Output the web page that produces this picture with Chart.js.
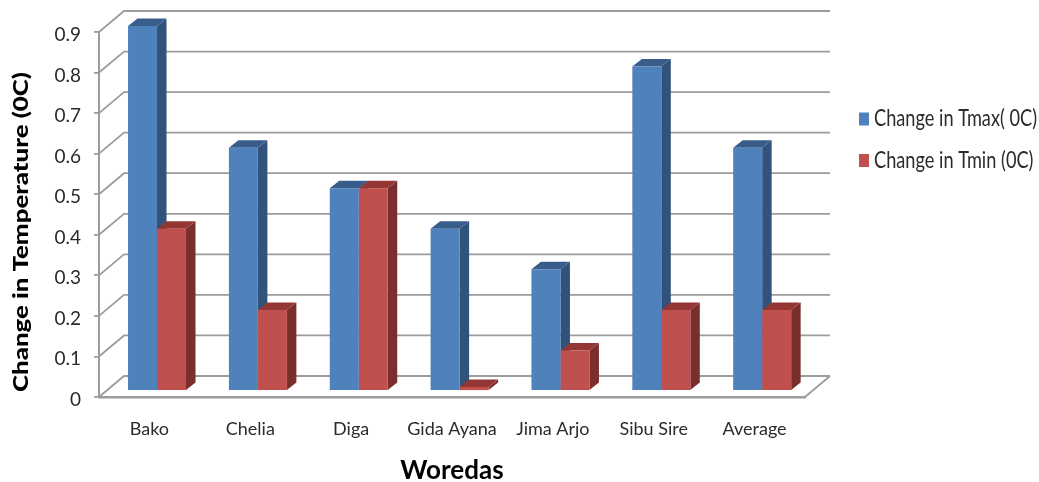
<!DOCTYPE html>
<html>
<head>
<meta charset="utf-8">
<title>Change in Temperature by Woreda</title>
<script src="https://cdn.jsdelivr.net/npm/chart.js@4/dist/chart.umd.min.js"></script>
<style>
  html, body { margin: 0; padding: 0; background: #fff; }
  canvas { display: block; }
</style>
</head>
<body>
<canvas id="tempChart" width="1039" height="482"></canvas>
<script>
const woredas = ['Bako', 'Chelia', 'Diga', 'Gida Ayana', 'Jima Arjo', 'Sibu Sire', 'Average'];
const tmaxChange = [0.9, 0.6, 0.5, 0.4, 0.3, 0.8, 0.6];
const tminChange = [0.4, 0.2, 0.5, 0.01, 0.1, 0.2, 0.2];

const labelFont = 'Lato, sans-serif';
const gridColor = '#9c9c9c';
const textColor = '#2b2b2b';

// fake 3D: back wall offset, and how far the bars sit in front of it
const wallDx = 25, wallDy = 21;
const barDx = 7.6, barDy = 6;
const depthDx = 9.5, depthDy = 7.5;

const shades = [
  { top: '#385d8a', side: '#31527a' },
  { top: '#943634', side: '#7a2f2d' }
];

function fillPoly(ctx, pts, color) {
  ctx.fillStyle = color;
  ctx.beginPath();
  pts.forEach((p, i) => i ? ctx.lineTo(p[0], p[1]) : ctx.moveTo(p[0], p[1]));
  ctx.closePath();
  ctx.fill();
}

const walls = {
  id: 'walls',
  beforeDatasetsDraw(chart) {
    const { ctx, scales: { y }, chartArea: { left, right } } = chart;
    ctx.save();
    ctx.strokeStyle = gridColor;
    ctx.lineWidth = 1.8;
    y.ticks.forEach(t => {
      const py = y.getPixelForValue(t.value);
      ctx.beginPath();
      ctx.moveTo(left, py);
      ctx.lineTo(left + wallDx, py - wallDy);
      ctx.lineTo(right + wallDx, py - wallDy);
      ctx.stroke();
    });
    // right edge of the floor
    const py0 = y.getPixelForValue(0);
    ctx.beginPath();
    ctx.moveTo(right, py0);
    ctx.lineTo(right + wallDx, py0 - wallDy);
    ctx.stroke();
    ctx.restore();
  }
};

const barDepth = {
  id: 'barDepth',
  beforeDatasetsDraw(chart) {
    const ctx = chart.ctx;
    ctx.save();
    ctx.translate(barDx, -barDy);
    // sides and tops go first so the flat bar fronts end up over them
    chart.data.datasets.forEach((ds, d) => {
      chart.getDatasetMeta(d).data.forEach(bar => {
        const l = bar.x - bar.width / 2, r = bar.x + bar.width / 2;
        fillPoly(ctx, [[r, bar.y], [r + depthDx, bar.y - depthDy], [r + depthDx, bar.base - depthDy], [r, bar.base]], shades[d].side);
        fillPoly(ctx, [[l, bar.y], [l + depthDx, bar.y - depthDy], [r + depthDx, bar.y - depthDy], [r, bar.y]], shades[d].top);
      });
    });
  },
  afterDatasetsDraw(chart) {
    chart.ctx.restore();
  }
};

const sideTexts = {
  id: 'sideTexts',
  afterDraw(chart) {
    const ctx = chart.ctx;
    const yTitle = 'Change in Temperature (0C)';
    ctx.save();
    // y axis title, stretched along its length
    ctx.font = '900 21px Lato, sans-serif';
    const yStretch = 320 / ctx.measureText(yTitle).width;
    ctx.translate(21, 232);
    ctx.rotate(-Math.PI / 2);
    ctx.scale(yStretch, 1);
    ctx.fillStyle = '#000';
    ctx.textAlign = 'center';
    ctx.textBaseline = 'middle';
    ctx.fillText(yTitle, 0, 0);
    ctx.restore();

    // legend, text squeezed to the width of its column
    ctx.save();
    ctx.font = '23px ' + labelFont;
    ctx.textBaseline = 'middle';
    const legendSqueeze = 163 / ctx.measureText(chart.data.datasets[0].label).width;
    chart.data.datasets.forEach((ds, i) => {
      const rowY = 119 + i * 41.5;
      ctx.fillStyle = ds.backgroundColor;
      ctx.fillRect(859, rowY - 6.5, 10, 13);
      ctx.save();
      ctx.translate(874, rowY);
      ctx.scale(legendSqueeze, 1);
      ctx.fillStyle = textColor;
      ctx.fillText(ds.label, 0, 0);
      ctx.restore();
    });
    ctx.restore();
  }
};

new Chart(document.getElementById('tempChart'), {
  type: 'bar',
  data: {
    labels: woredas,
    datasets: [
      { label: 'Change in Tmax( 0C)', data: tmaxChange, backgroundColor: '#4f81bd', clip: false },
      { label: 'Change in Tmin (0C)', data: tminChange, backgroundColor: '#c0504d', clip: false }
    ]
  },
  options: {
    responsive: false,
    animation: false,
    categoryPercentage: 0.575,
    barPercentage: 1,
    layout: { padding: { top: 32, right: 234, left: 0, bottom: 0 } },
    plugins: { legend: { display: false }, tooltip: { enabled: false } },
    scales: {
      x: {
        afterFit: s => { s.height = 85; },
        grid: { display: false },
        border: { color: gridColor, width: 2.5 },
        ticks: { color: textColor, padding: 13, font: { family: labelFont, size: 18 }, maxRotation: 0, autoSkip: false },
        title: {
          display: true,
          text: 'Woredas',
          color: '#000',
          padding: { top: 0, bottom: -4 },
          font: { family: labelFont, size: 26, weight: 'bold' }
        }
      },
      y: {
        min: 0,
        max: 0.9,
        afterFit: s => { s.width = 99; },
        grid: { drawOnChartArea: false, color: gridColor, tickLength: 5, lineWidth: 1.8 },
        border: { color: gridColor, width: 2 },
        ticks: {
          stepSize: 0.1,
          color: textColor,
          padding: 13,
          // blank first line plus a small line height nudges the numbers down a little
          font: { family: labelFont, size: 19, lineHeight: 0.3 },
          callback: v => ['', v === 0 ? '0' : v.toFixed(1)]
        }
      }
    }
  },
  plugins: [walls, barDepth, sideTexts]
});
</script>
</body>
</html>
